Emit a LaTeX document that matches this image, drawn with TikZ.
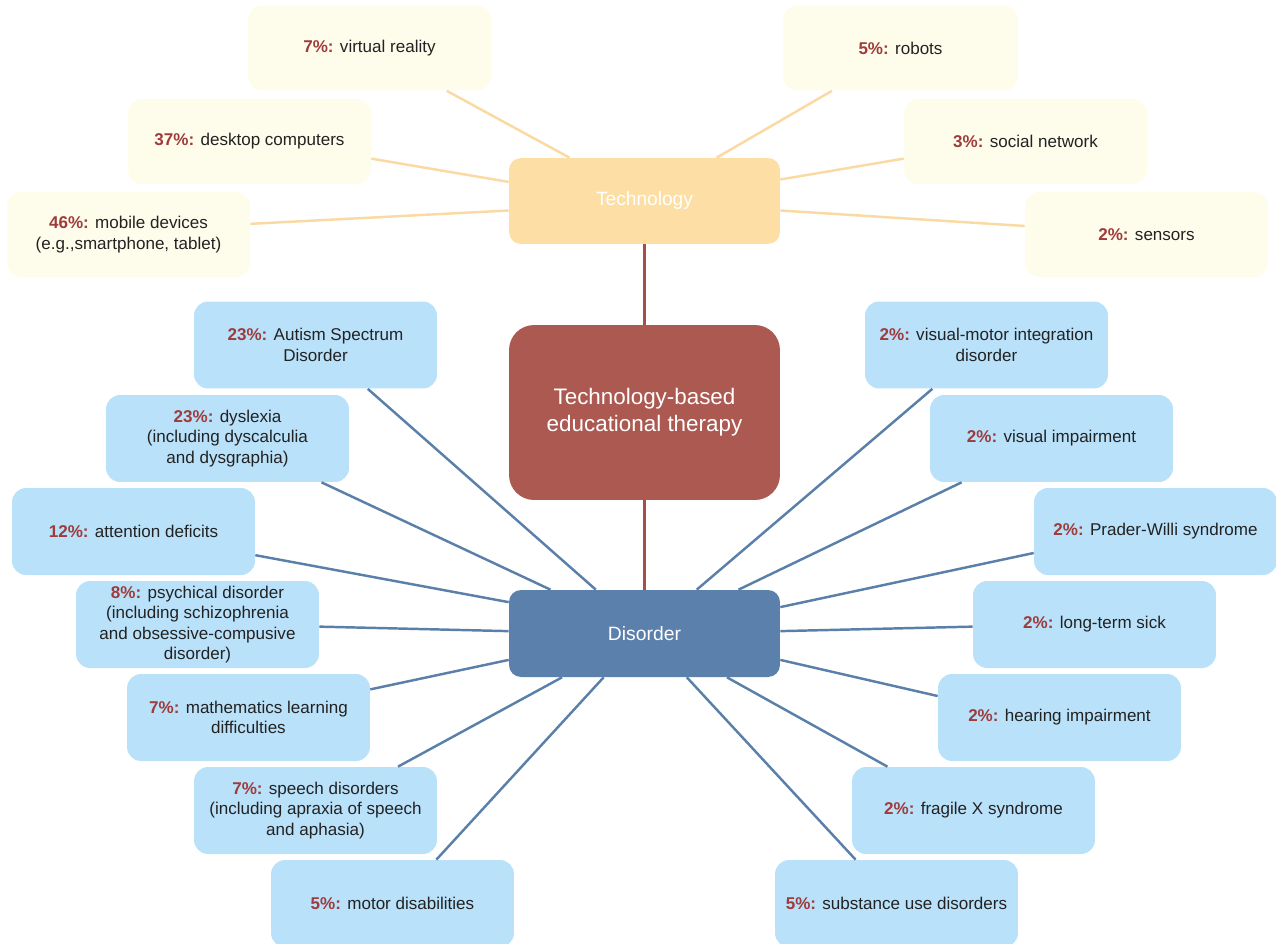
\documentclass[tikz,border=0pt]{standalone}
\usepackage{fontspec}
\setmainfont{Liberation Sans}
\usepackage{tikz}

\definecolor{pctred}{HTML}{9E3B3B}
\definecolor{techfill}{HTML}{FDDFA5}
\definecolor{techline}{HTML}{FAD9A2}
\definecolor{leafyellow}{HTML}{FEFDEC}
\definecolor{leafblue}{HTML}{B9E1FA}
\definecolor{disfill}{HTML}{5A80AB}
\definecolor{bluelink}{HTML}{5A80AA}
\definecolor{therapyfill}{HTML}{AC5A51}
\definecolor{redlink}{HTML}{A84D47}
\definecolor{textgray}{HTML}{222222}

\newcommand{\pcttext}[1]{\textbf{\color{pctred}#1}}

\begin{document}
\begin{tikzpicture}[x=0.02cm, y=-0.02cm,
    leaf/.style={rectangle, rounded corners=0.28cm, minimum width=4.86cm,
        minimum height=1.74cm, inner sep=2pt, align=center, text=textgray,
        font=\fontsize{9.7}{11.6}\selectfont},
    techleaf/.style={leaf, fill=leafyellow, minimum height=1.7cm},
    disleaf/.style={leaf, fill=leafblue},
    hub/.style={rectangle, minimum width=5.42cm, minimum height=1.72cm,
        rounded corners=0.24cm, text=white, font=\fontsize{11}{13}\selectfont},
    techlink/.style={draw=techline, line width=1.4pt},
    dislink/.style={draw=bluelink, line width=1.4pt},
    redlinkline/.style={draw=redlink, line width=1.2pt}]
        \useasboundingbox (0,0) rectangle (1276,944);

        \node[hub, fill=techfill, font=\fontsize{10.9}{13}\selectfont] (tech) at (644.5, 201) {Technology};
        \node[hub, fill=therapyfill, minimum height=3.5cm, rounded corners=0.5cm, align=center,
            font=\fontsize{12.75}{15.3}\selectfont] (therapy) at (644.5, 412.5)
            {Technology-based\\educational therapy};
        \node[hub, fill=disfill, minimum height=1.74cm] (disorder) at (644.5, 633.5) {Disorder};

        \node[techleaf] (vr) at (369.5, 48) {\pcttext{7\%:} virtual reality};
        \node[techleaf] (desktop) at (249.5, 141.5) {\pcttext{37\%:} desktop computers};
        \node[techleaf] (mobile) at (128.5, 234.5) {\pcttext{46\%:} mobile devices\\(e.g.,smartphone, tablet)};
        \node[techleaf, minimum width=4.7cm] (robots) at (900.5, 48) {\pcttext{5\%:} robots};
        \node[techleaf] (social) at (1025.5, 141.5) {\pcttext{3\%:} social network};
        \node[techleaf] (sensors) at (1146.5, 234.5) {\pcttext{2\%:} sensors};

        \node[disleaf] (asd) at (315.5, 345) {\pcttext{23\%:} Autism Spectrum\\Disorder};
        \node[disleaf] (dyslexia) at (227.5, 438.5) {\pcttext{23\%:} dyslexia\\(including dyscalculia\\and dysgraphia)};
        \node[disleaf] (attention) at (133.5, 531.5) {\pcttext{12\%:} attention deficits};
        \node[disleaf] (psych) at (197.5, 624.5) {\pcttext{8\%:} psychical disorder\\(including schizophrenia\\and obsessive-compusive\\disorder)};
        \node[disleaf] (math) at (248.5, 717.5) {\pcttext{7\%:} mathematics learning\\difficulties};
        \node[disleaf] (speech) at (315.5, 810.5) {\pcttext{7\%:} speech disorders\\(including apraxia of speech\\and aphasia)};
        \node[disleaf] (motor) at (392.5, 903.5) {\pcttext{5\%:} motor disabilities};

        \node[disleaf] (vmi) at (986.5, 345) {\pcttext{2\%:} visual-motor integration\\disorder};
        \node[disleaf] (visual) at (1051.5, 438.5) {\pcttext{2\%:} visual impairment};
        \node[disleaf] (prader) at (1155.5, 531.5) {\pcttext{2\%:} Prader-Willi syndrome};
        \node[disleaf] (longterm) at (1094.5, 624.5) {\pcttext{2\%:} long-term sick};
        \node[disleaf] (hearing) at (1059.5, 717.5) {\pcttext{2\%:} hearing impairment};
        \node[disleaf] (fragile) at (973.5, 810.5) {\pcttext{2\%:} fragile X syndrome};
        \node[disleaf] (substance) at (896.5, 903.5) {\pcttext{5\%:} substance use disorders};

        \draw[techlink] (vr.-29) -- (tech.150);
        \draw[techlink] (desktop.-8) -- (tech.172);
        \draw[techlink] (mobile.5) -- (tech.184);
        \draw[techlink] (robots.212) -- (tech.31);
        \draw[techlink] (social.188) -- (tech.9);
        \draw[techlink] (sensors.176) -- (tech.-4);

        \draw[redlinkline] (tech.south) -- (therapy.north);
        \draw[redlinkline] (therapy.south) -- (disorder.north);

        \draw[dislink] (asd.-40) -- (disorder.138);
        \draw[dislink] (dyslexia.-25) -- (disorder.155);
        \draw[dislink] (attention.-11) -- (disorder.167);
        \draw[dislink] (psych.-1) -- (disorder.179);
        \draw[dislink] (math.13) -- (disorder.191);
        \draw[dislink] (speech.28) -- (disorder.208);
        \draw[dislink] (motor.45) -- (disorder.227);

        \draw[dislink] (vmi.219) -- (disorder.40);
        \draw[dislink] (visual.206) -- (disorder.25);
        \draw[dislink] (prader.190) -- (disorder.11);
        \draw[dislink] (longterm.181) -- (disorder.1);
        \draw[dislink] (hearing.170) -- (disorder.-11);
        \draw[dislink] (fragile.153) -- (disorder.-28);
        \draw[dislink] (substance.133) -- (disorder.-46);
    \end{tikzpicture}
\end{document}
